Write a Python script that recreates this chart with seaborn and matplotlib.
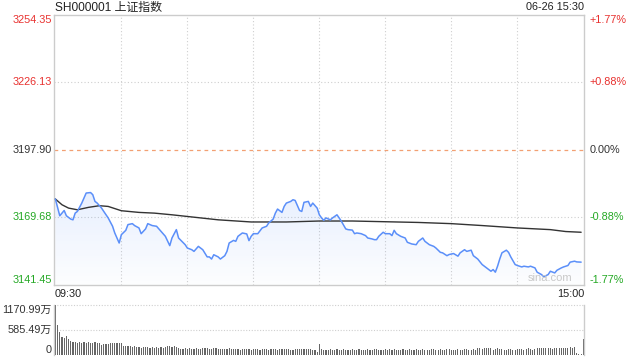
import numpy as np
import pandas as pd
import matplotlib
matplotlib.use("Agg")
import matplotlib.pyplot as plt
import matplotlib.transforms as mtransforms
from matplotlib.colors import to_rgb
import seaborn as sns

# ---------------- data ----------------
title = "SH000001 上证指数"
stamp = "06-26 15:30"
prev_close = 3197.90
price_ticks = [3254.35, 3226.13, 3197.90, 3169.68, 3141.45]
vol_ticks = [1170.99, 585.49, 0]
vol_tick_labels = ["1170.99万", "585.49万", "0"]
time_labels = ["09:30", "15:00"]
watermark = "sina.com"

price_minutes = [0, 2, 3, 4, 5, 7, 8, 9, 10, 12, 13, 14, 16, 17, 18, 19, 21, 22, 24, 26,
                 27, 29, 30, 32, 33, 35, 36, 38, 39, 41, 42, 44, 46, 48, 50, 52, 53, 55, 56, 59,
                 60, 62, 63, 65, 67, 69, 70, 71, 72, 74, 75, 77, 78, 79, 81, 82, 83, 85, 87, 88,
                 89, 90, 92, 94, 96, 97, 99, 100, 101, 103, 104, 105, 107, 108, 109, 111, 112, 113, 115, 116,
                 117, 119, 120, 121, 122, 123, 125, 126, 128, 129, 130, 132, 133, 135, 136, 137, 139, 141, 142, 144,
                 145, 146, 147, 149, 150, 152, 153, 154, 155, 157, 159, 160, 162, 164, 165, 167, 168, 170, 172, 173,
                 175, 176, 178, 179, 181, 183, 184, 186, 187, 189, 190, 192, 194, 195, 197, 198, 199, 200, 201, 202,
                 203, 205, 206, 207, 209, 210, 212, 213, 215, 216, 218, 219, 221, 222, 224, 225, 227, 228, 230, 231,
                 233, 234, 236, 237, 239]
price_values = [3177.2, 3170.2, 3171.3, 3172.4, 3170.2, 3168.8, 3168.5, 3171.3, 3172.0, 3175.5,
                3177.6, 3179.7, 3179.9, 3179.0, 3176.2, 3175.5, 3173.4, 3172.0, 3169.3, 3165.8,
                3163.0, 3158.8, 3162.3, 3164.1, 3166.5, 3166.9, 3166.1, 3165.1, 3162.7, 3164.7,
                3166.9, 3166.1, 3165.8, 3163.7, 3161.6, 3157.7, 3160.9, 3164.4, 3160.9, 3158.1,
                3156.7, 3156.0, 3155.3, 3157.4, 3156.0, 3153.0, 3153.0, 3152.1, 3153.9, 3153.0,
                3152.1, 3153.5, 3155.3, 3158.8, 3159.9, 3159.5, 3161.6, 3163.0, 3162.6, 3159.8,
                3161.6, 3162.7, 3162.7, 3165.1, 3165.8, 3167.2, 3168.8, 3171.3, 3173.0, 3171.6,
                3174.1, 3175.5, 3176.2, 3176.9, 3176.6, 3172.4, 3172.0, 3175.8, 3176.2, 3174.1,
                3175.5, 3173.4, 3170.6, 3169.3, 3168.3, 3169.3, 3168.5, 3169.3, 3170.6, 3169.3,
                3167.9, 3164.7, 3164.4, 3164.2, 3162.7, 3163.0, 3162.7, 3161.9, 3160.9, 3160.5,
                3160.2, 3160.2, 3161.6, 3163.3, 3162.7, 3162.7, 3161.9, 3164.1, 3162.7, 3161.6,
                3160.9, 3159.1, 3158.4, 3158.1, 3159.5, 3160.9, 3159.5, 3158.1, 3157.4, 3156.7,
                3154.9, 3154.7, 3153.5, 3154.0, 3154.4, 3153.3, 3154.7, 3156.0, 3155.3, 3155.8,
                3153.5, 3152.1, 3149.8, 3149.1, 3147.7, 3147.0, 3147.7, 3146.6, 3149.1, 3152.1,
                3154.7, 3155.8, 3154.9, 3153.0, 3149.8, 3149.4, 3148.8, 3149.1, 3148.8, 3149.1,
                3148.4, 3146.6, 3145.6, 3144.7, 3145.6, 3147.0, 3146.3, 3147.4, 3148.4, 3148.8,
                3149.4, 3150.8, 3151.2, 3150.9, 3150.8]

avg_minutes = [0, 3, 6, 10, 15, 20, 24, 30, 38, 45, 53, 60, 74, 89, 105, 120, 135, 150, 165,
               180, 194, 210, 225, 232, 239]
avg_values = [3177.2, 3174.8, 3173.4, 3172.7, 3173.7, 3174.4, 3174.1, 3172.3, 3171.6, 3171.3,
              3170.6, 3169.9, 3168.5, 3167.6, 3167.6, 3168.0, 3168.0, 3167.7, 3167.4, 3166.9,
              3166.1, 3165.1, 3164.4, 3163.6, 3163.3]

volumes = [1170.99, 703, 546, 430, 390, 445, 370, 330, 312, 300,
           290, 300, 285, 295, 290, 300, 280, 292, 300, 285,
           290, 230, 255, 258, 250, 280, 282, 278, 285, 280,
           276, 210, 220, 200, 215, 195, 205, 185, 190, 175,
           190, 180, 195, 170, 185, 175, 180, 170, 185, 175,
           180, 200, 205, 195, 200, 190, 170, 150, 145, 155,
           150, 160, 140, 150, 155, 145, 150, 165, 170, 160,
           150, 140, 155, 165, 150, 140, 145, 130, 150, 155,
           140, 130, 150, 140, 120, 145, 135, 150, 130, 125,
           140, 150, 135, 120, 130, 145, 140, 125, 135, 150,
           130, 120, 140, 145, 130, 135, 150, 125, 115, 140,
           130, 145, 150, 135, 140, 145, 130, 120, 125, 60,
           260,
           140, 120, 110, 125, 135, 115, 120, 140, 110, 125,
           130, 115, 120, 110, 135, 125, 115, 140, 120, 110,
           125, 135, 110, 120, 145, 130, 115, 125, 110, 140,
           120, 130, 115, 145, 125, 110, 120, 135, 115, 125,
           140, 120, 110, 130, 125, 115, 135, 120, 110, 125,
           130, 150, 125, 115, 140, 120, 110, 130, 145, 120,
           115, 125, 140, 110, 120, 135, 150, 125, 115, 130,
           120, 160, 165, 140, 170, 165, 155, 170, 125, 140,
           165, 150, 130, 120, 115, 140, 150, 125, 120, 135,
           130, 145, 125, 150, 160, 140, 120, 130, 155, 165,
           170, 160, 175, 165, 170, 150, 160, 170, 175, 165,
           160, 170, 175, 180, 165, 185,
           40, 30, 35,
           367]

# ---------------- style ----------------
sns.set_theme(style="white")
plt.rcParams["font.family"] = ["Liberation Sans", "Noto Sans CJK SC", "DejaVu Sans"]

RED = "#e8312f"
GREEN = "#24a824"
DARK = "#333333"
BLUE = "#5b8ff9"
GRID = "#cfcfcf"
SPINE = "#cccccc"

fig = plt.figure(figsize=(6.4, 3.6), dpi=100)
fig.patch.set_facecolor("white")
ax = fig.add_axes([0.0848, 0.2097, 0.8277, 0.75])
axv = fig.add_axes([0.0848, 0.0139, 0.8277, 0.1389])

xlo, xhi = -0.5, 240.3
ylo, yhi = price_ticks[-1], price_ticks[0]

# gridlines
for k in range(1, 8):
    ax.axvline(30 * k, color=GRID, lw=0.8, ls=(0, (1, 2)), zorder=0)
for t in (price_ticks[1], price_ticks[3]):
    ax.axhline(t, color=GRID, lw=0.8, ls=(0, (1, 2)), zorder=0)
ax.axhline(prev_close, color="#f2a073", lw=0.9, ls=(0, (3, 3)), zorder=0)

# gradient fill under the price line
df_price = pd.DataFrame({"minute": price_minutes, "price": price_values})
df_avg = pd.DataFrame({"minute": avg_minutes, "price": avg_values})
poly = ax.fill_between(df_price["minute"], df_price["price"], ylo,
                       facecolor="none", edgecolor="none")
rgb = to_rgb(BLUE)
alpha = np.linspace(0.14, 0.015, 256)
img = np.zeros((256, 1, 4))
img[:, 0, 0], img[:, 0, 1], img[:, 0, 2] = rgb
img[:, 0, 3] = alpha
im = ax.imshow(img, extent=[xlo, xhi, ylo, max(price_values)], aspect="auto",
               origin="upper", zorder=1, interpolation="bilinear")
im.set_clip_path(poly.get_paths()[0], transform=ax.transData)

sns.lineplot(data=df_avg, x="minute", y="price", ax=ax, color=DARK, lw=1.0, zorder=3)
sns.lineplot(data=df_price, x="minute", y="price", ax=ax, color=BLUE, lw=1.1, zorder=4)

ax.set_xlim(xlo, xhi)
ax.set_ylim(ylo, yhi)
ax.set_xticks([])
ax.set_yticks([])
ax.set_xlabel("")
ax.set_ylabel("")
for s in ax.spines.values():
    s.set_color(SPINE)
    s.set_linewidth(1.0)

trans = mtransforms.blended_transform_factory(ax.transAxes, ax.transData)
fs = 7.8
for i, t in enumerate(price_ticks):
    pct = (t / prev_close - 1) * 100
    col = RED if pct > 0.001 else (GREEN if pct < -0.001 else DARK)
    va = "top" if i == 0 else ("bottom" if i == len(price_ticks) - 1 else "center")
    ax.text(-0.005, t, f"{t:.2f}", transform=trans, ha="right", va=va, color=col, fontsize=fs)
    plabel = f"{pct:+.2f}%" if abs(pct) > 0.001 else "0.00%"
    ax.text(1.0113, t, plabel, transform=trans, ha="left", va=va, color=col, fontsize=fs)

ax.text(0.978, 0.004, watermark, transform=ax.transAxes, ha="right", va="bottom",
        color="#c8c8c8", fontsize=8, zorder=5)

# volume panel
axv.bar(np.arange(len(volumes)), volumes, width=0.5, color="#666666", linewidth=0)
axv.set_xlim(xlo, xhi)
axv.set_ylim(0, vol_ticks[0])
for t in vol_ticks[:2]:
    axv.axhline(t, color=GRID, lw=0.8, ls=(0, (1, 1.5)), zorder=0, clip_on=False)
axv.set_xticks([])
axv.set_yticks([])
axv.spines["top"].set_visible(False)
axv.spines["bottom"].set_visible(False)
for s in ("left", "right"):
    axv.spines[s].set_color(SPINE)
    axv.spines[s].set_linewidth(1.0)
vtrans = mtransforms.blended_transform_factory(axv.transAxes, axv.transData)
for i, (t, lab) in enumerate(zip(vol_ticks, vol_tick_labels)):
    va = "top" if i == 0 else ("bottom" if i == len(vol_ticks) - 1 else "center")
    axv.text(-0.005, t, lab, transform=vtrans, ha="right", va=va, color=DARK, fontsize=fs)

# header / time labels
fig.text(55 / 640, 1 - 7.5 / 360, title, ha="left", va="center", fontsize=8.6, color="#222222")
fig.text(584 / 640, 1 - 7.5 / 360, stamp, ha="right", va="center", fontsize=7.8, color="#222222")
fig.text(55 / 640, 1 - 294 / 360, time_labels[0], ha="left", va="center", fontsize=fs, color="#222222")
fig.text(584 / 640, 1 - 294 / 360, time_labels[1], ha="right", va="center", fontsize=fs, color="#222222")

fig.savefig("out.png", dpi=100, facecolor="white")
